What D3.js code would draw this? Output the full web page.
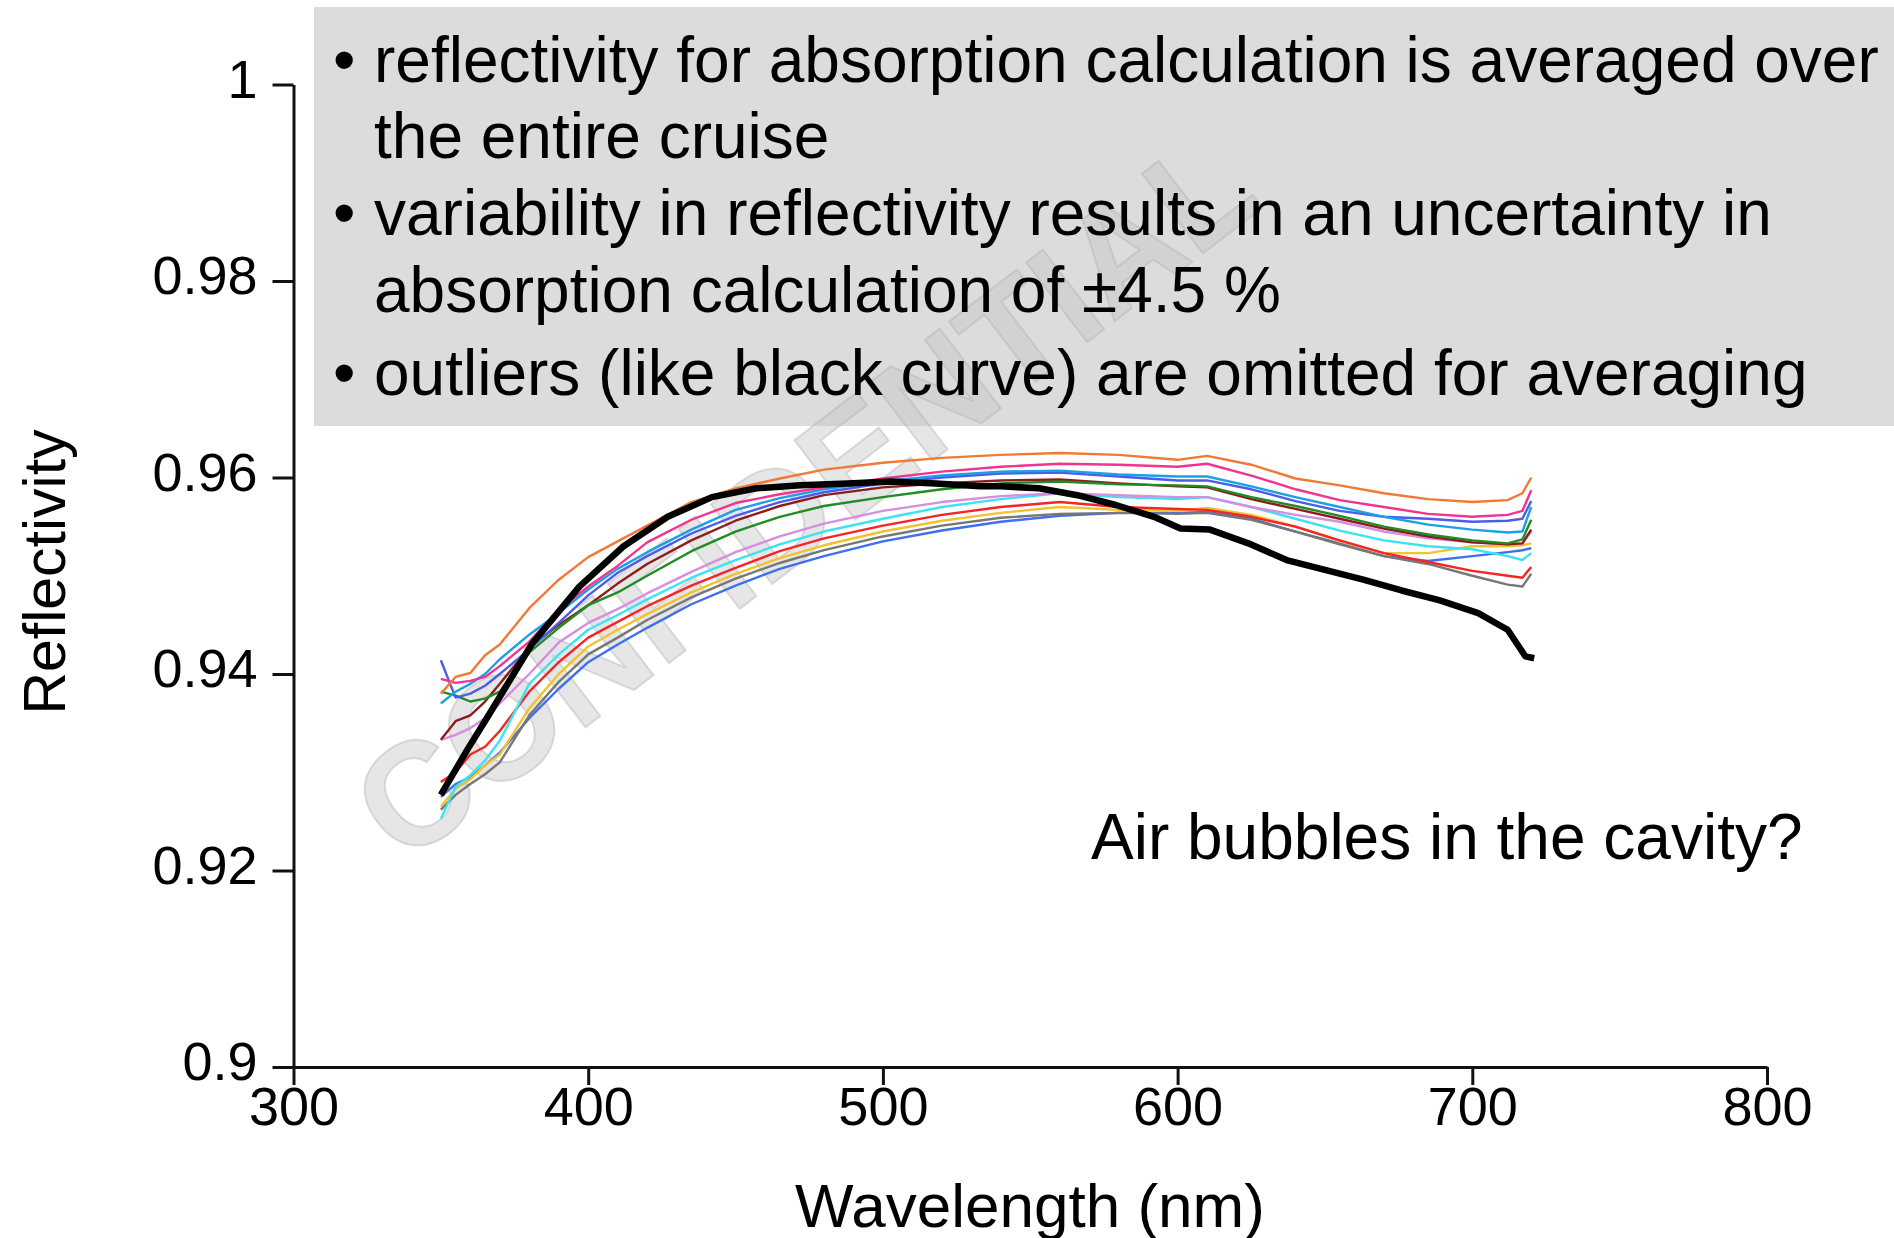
<!DOCTYPE html>
<html>
<head>
<meta charset="utf-8">
<script src="https://cdn.jsdelivr.net/npm/d3@7"></script>
<style>
  body { margin: 0; background: #fff; }
  text { font-family: "Liberation Sans", Arial, sans-serif; }
</style>
</head>
<body>
<div id="main_div"></div>
<script>

// shared wavelength grid (nm) for the normal spectra
const wavelengths = [350, 355, 360, 365, 370, 380, 390, 400, 410, 420, 435, 450, 465, 480, 500,
    520, 540, 560, 580, 600, 610, 625, 640, 655, 670, 685, 700, 712, 717, 720];

const r_orange = [0.9380, 0.9397, 0.9401, 0.9419, 0.9430, 0.9467, 0.9496, 0.9519, 0.9535, 0.9551, 0.9575, 0.9589, 0.9599, 0.9608, 0.9615,
    0.9620, 0.9623, 0.9625, 0.9623, 0.9618, 0.9622, 0.9613, 0.9599, 0.9592, 0.9584, 0.9578, 0.9575, 0.9577, 0.9584, 0.9600];
const r_pink = [0.9395, 0.9391, 0.9393, 0.9397, 0.9408, 0.9433, 0.9465, 0.9489, 0.9510, 0.9534, 0.9557, 0.9574, 0.9583, 0.9590, 0.9599,
    0.9606, 0.9611, 0.9614, 0.9613, 0.9611, 0.9614, 0.9602, 0.9588, 0.9577, 0.9570, 0.9563, 0.9560, 0.9562, 0.9566, 0.9587];
const r_skyblue = [0.9370, 0.9382, 0.9390, 0.9400, 0.9415, 0.9440, 0.9462, 0.9486, 0.9507, 0.9524, 0.9547, 0.9567, 0.9579, 0.9588, 0.9596,
    0.9602, 0.9606, 0.9607, 0.9603, 0.9601, 0.9601, 0.9591, 0.9580, 0.9570, 0.9560, 0.9552, 0.9547, 0.9544, 0.9545, 0.9570];
const r_blue = [0.9414, 0.9376, 0.9380, 0.9388, 0.9400, 0.9425, 0.9452, 0.9480, 0.9503, 0.9520, 0.9543, 0.9561, 0.9575, 0.9585, 0.9594,
    0.9600, 0.9604, 0.9605, 0.9601, 0.9597, 0.9597, 0.9588, 0.9576, 0.9566, 0.9560, 0.9558, 0.9555, 0.9556, 0.9558, 0.9576];
const r_green = [0.9382, 0.9378, 0.9372, 0.9375, 0.9382, 0.9422, 0.9447, 0.9470, 0.9483, 0.9500, 0.9525, 0.9545, 0.9560, 0.9571, 0.9580,
    0.9588, 0.9594, 0.9596, 0.9593, 0.9592, 0.9591, 0.9580, 0.9571, 0.9561, 0.9550, 0.9542, 0.9536, 0.9533, 0.9537, 0.9557];
const r_brown = [0.9333, 0.9352, 0.9358, 0.9372, 0.9390, 0.9427, 0.9450, 0.9470, 0.9492, 0.9512, 0.9536, 0.9556, 0.9571, 0.9582, 0.9590,
    0.9594, 0.9597, 0.9598, 0.9594, 0.9591, 0.9590, 0.9578, 0.9568, 0.9558, 0.9548, 0.9540, 0.9534, 0.9532, 0.9533, 0.9547];
const r_lilac = [0.9333, 0.9338, 0.9345, 0.9355, 0.9370, 0.9400, 0.9432, 0.9452, 0.9466, 0.9482, 0.9504, 0.9524, 0.9540, 0.9553, 0.9566,
    0.9575, 0.9581, 0.9584, 0.9582, 0.9580, 0.9580, 0.9570, 0.9562, 0.9555, 0.9545, 0.9538, 0.9534, 0.9532, 0.9533, 0.9545];
const r_cyan = [0.9253, 0.9285, 0.9297, 0.9312, 0.9332, 0.9390, 0.9420, 0.9445, 0.9460, 0.9476, 0.9498, 0.9516, 0.9532, 0.9545, 0.9558,
    0.9570, 0.9578, 0.9584, 0.9580, 0.9578, 0.9580, 0.9570, 0.9558, 0.9546, 0.9536, 0.9530, 0.9527, 0.9520, 0.9516, 0.9523];
const r_red = [0.9290, 0.9300, 0.9318, 0.9326, 0.9342, 0.9382, 0.9412, 0.9437, 0.9453, 0.9469, 0.9490, 0.9508, 0.9525, 0.9538, 0.9551,
    0.9562, 0.9570, 0.9575, 0.9570, 0.9568, 0.9567, 0.9560, 0.9550, 0.9536, 0.9523, 0.9514, 0.9505, 0.9500, 0.9498, 0.9509];
const r_yellow = [0.9265, 0.9283, 0.9293, 0.9307, 0.9318, 0.9365, 0.9400, 0.9428, 0.9445, 0.9461, 0.9483, 0.9502, 0.9518, 0.9531, 0.9545,
    0.9556, 0.9564, 0.9570, 0.9567, 0.9566, 0.9569, 0.9562, 0.9550, 0.9535, 0.9523, 0.9523, 0.9530, 0.9530, 0.9531, 0.9533];
const r_gray = [0.9262, 0.9277, 0.9288, 0.9298, 0.9310, 0.9358, 0.9392, 0.9420, 0.9437, 0.9455, 0.9478, 0.9497, 0.9513, 0.9526, 0.9540,
    0.9551, 0.9559, 0.9563, 0.9564, 0.9563, 0.9564, 0.9557, 0.9545, 0.9532, 0.9520, 0.9512, 0.9500, 0.9491, 0.9489, 0.9502];
const r_royal = [0.9275, 0.9288, 0.9295, 0.9307, 0.9320, 0.9355, 0.9385, 0.9412, 0.9430, 0.9447, 0.9471, 0.9490, 0.9507, 0.9520, 0.9535,
    0.9546, 0.9555, 0.9561, 0.9564, 0.9564, 0.9565, 0.9558, 0.9545, 0.9533, 0.9520, 0.9515, 0.9520, 0.9524, 0.9526, 0.9528];

// the outlier (black curve)
const outlierWavelengths = [350, 359, 366, 381, 397, 412, 427, 442, 457, 472, 488, 503, 518, 533, 540, 553,
    566, 579, 592, 601, 611, 624, 637, 650, 663, 676, 689, 702, 712, 718, 721];
const r_outlier = [0.9277, 0.9323, 0.9357, 0.9431, 0.9489, 0.9530, 0.9560, 0.9580, 0.9589, 0.9592, 0.9594, 0.9596, 0.9594, 0.9591, 0.9591, 0.9589,
    0.9582, 0.9572, 0.9560, 0.9548, 0.9547, 0.9533, 0.9516, 0.9506, 0.9496, 0.9485, 0.9475, 0.9462, 0.9445, 0.9418, 0.9416];

const xTicks = [300, 400, 500, 600, 700, 800];
const yTicks = [0.9, 0.92, 0.94, 0.96, 0.98, 1];

const notes = [
    ["reflectivity for absorption calculation is averaged over", "the entire cruise"],
    ["variability in reflectivity results in an uncertainty in", "absorption calculation of \u00b14.5 %"],
    ["outliers (like black curve) are omitted for averaging"]
];
const annotation = "Air bubbles in the cavity?";
const watermark = "CONFIDENTIAL";

function draw() {
    const W = 1894, H = 1238;

    const svg = d3.select("#main_div")
        .append("svg")
        .attr("width", W)
        .attr("height", H);

    const xScale = d3.scaleLinear().domain([300, 800]).range([293.5, 1767]);
    const yScale = d3.scaleLinear().domain([0.9, 1]).range([1067, 84.5]);

    // grey note box
    svg.append("rect")
        .attr("x", 314).attr("y", 7)
        .attr("width", W - 314).attr("height", 419)
        .attr("fill", "#dcdcdc");

    // watermark
    svg.append("text")
        .attr("transform", "translate(803,494) rotate(-37.5)")
        .attr("text-anchor", "middle")
        .attr("dy", "0.36em")
        .style("font-weight", "bold")
        .style("font-size", "146px")
        .attr("fill", "#c4c4c4")
        .attr("fill-opacity", 0.42)
        .attr("stroke", "#b0b0b0")
        .attr("stroke-opacity", 0.4)
        .attr("stroke-width", 2)
        .text(watermark);

    // note text
    const baselines = [[82, 158], [235, 312], [395]];
    notes.forEach((lines, i) => {
        svg.append("text")
            .attr("x", 333).attr("y", baselines[i][0])
            .style("font-size", "64px")
            .text("\u2022");
        lines.forEach((ln, j) => {
            svg.append("text")
                .attr("x", 374).attr("y", baselines[i][j])
                .style("font-size", "64px")
                .text(ln);
        });
    });

    // axes
    const yAxis = d3.axisLeft(yScale)
        .tickValues(yTicks)
        .tickSize(21).tickSizeOuter(0).tickPadding(15)
        .tickFormat(d => String(+d.toFixed(2)));
    const gy = svg.append("g")
        .attr("transform", "translate(293.5,0)")
        .call(yAxis);
    gy.selectAll("text").attr("dy", "0.24em");

    const xAxis = d3.axisBottom(xScale)
        .tickValues(xTicks)
        .tickSize(18).tickSizeOuter(0).tickPadding(2);
    const gx = svg.append("g")
        .attr("transform", "translate(0,1067)")
        .call(xAxis);

    [gx, gy].forEach(g => {
        g.select(".domain").attr("stroke", "#111").attr("stroke-width", 3);
        g.selectAll(".tick line").attr("stroke", "#111").attr("stroke-width", 3);
        g.selectAll("text")
            .attr("fill", "#000")
            .style("font-family", "'Liberation Sans', Arial, sans-serif")
            .style("font-size", "54px");
    });

    // axis titles
    svg.append("text")
        .attr("transform", "translate(65,572) rotate(-90)")
        .attr("text-anchor", "middle")
        .style("font-size", "59px")
        .text("Reflectivity");

    svg.append("text")
        .attr("x", 1030).attr("y", 1227)
        .attr("text-anchor", "middle")
        .style("font-size", "62px")
        .text("Wavelength (nm)");

    // spectra
    const line = d3.line()
        .x(d => xScale(d[0]))
        .y(d => yScale(d[1]));

    const curves = [
        [r_royal, "#3d6ff0"],
        [r_gray, "#777777"],
        [r_yellow, "#f2c230"],
        [r_red, "#f52525"],
        [r_cyan, "#3de3f0"],
        [r_lilac, "#d58ee0"],
        [r_brown, "#8c1d1d"],
        [r_green, "#1f8c24"],
        [r_blue, "#4a5ee8"],
        [r_skyblue, "#1c9fe6"],
        [r_pink, "#f2338f"],
        [r_orange, "#f07a35"]
    ];

    curves.forEach(c => {
        svg.append("path")
            .datum(d3.zip(wavelengths, c[0]))
            .attr("fill", "none")
            .attr("stroke", c[1])
            .attr("stroke-width", 2.4)
            .attr("stroke-linejoin", "round")
            .attr("d", line);
    });

    svg.append("path")
        .datum(d3.zip(outlierWavelengths, r_outlier))
        .attr("fill", "none")
        .attr("stroke", "#000")
        .attr("stroke-width", 6.5)
        .attr("stroke-linejoin", "round")
        .attr("d", line);

    svg.append("text")
        .attr("x", 1091).attr("y", 859)
        .style("font-size", "64px")
        .text(annotation);
}

draw();
</script>
</body>
</html>
